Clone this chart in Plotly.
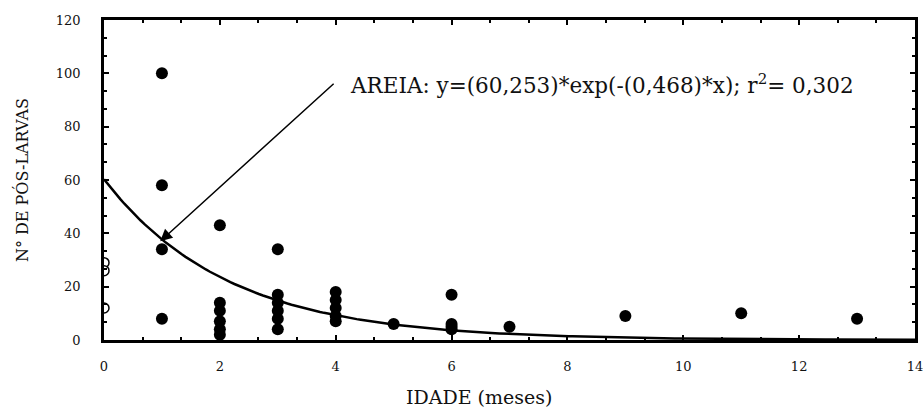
import numpy as np
import plotly.graph_objects as go

# AREIA: observed counts by age (months)
idade = [1, 1, 1, 1,
         2, 2, 2, 2, 2, 2,
         3, 3, 3, 3, 3, 3,
         4, 4, 4, 4, 4,
         5, 6, 6, 6, 6, 7, 9, 11, 13]
n_pl = [100, 58, 34, 8,
        43, 14, 11, 7, 4, 2,
        34, 17, 14, 11, 8, 4,
        18, 15, 12, 9, 7,
        6, 17, 6, 5, 4, 5, 9, 10, 8]

# open circles at age 0
idade0 = [0, 0, 0]
n_pl0 = [29, 26, 12]

a, b = 60.253, 0.468
xfit = np.linspace(0, 14, 200)
yfit = a * np.exp(-b * xfit)

font = "DejaVu Serif"
ink = "#111"

fig = go.Figure()
fig.add_trace(go.Scatter(x=xfit, y=yfit, mode="lines",
                         line=dict(color="black", width=2.5), showlegend=False))
fig.add_trace(go.Scatter(x=idade, y=n_pl, mode="markers",
                         marker=dict(color="black", size=12), showlegend=False))
fig.add_trace(go.Scatter(x=idade0, y=n_pl0, mode="markers",
                         marker=dict(color="white", size=10,
                                     line=dict(color="black", width=1.5)),
                         showlegend=False))

fig.add_annotation(x=0.97, y=37, ax=3.99, ay=96.6, xref="x", yref="y",
                   axref="x", ayref="y", text="", showarrow=True,
                   arrowhead=2, arrowsize=1.6, arrowwidth=1.5, arrowcolor="black")
fig.add_annotation(x=4.22, y=96, xref="x", yref="y", xanchor="left",
                   text="AREIA: y=(60,253)*exp(-(0,468)*x); r<sup>2</sup>= 0,302",
                   showarrow=False, font=dict(family=font, size=21.5, color=ink))

# axis titles placed as annotations
fig.add_annotation(x=-0.101, y=0.5, xref="paper", yref="paper", textangle=-90,
                   xanchor="center", yanchor="middle",
                   text="N° DE PÓS-LARVAS", showarrow=False,
                   font=dict(family=font, size=16, color=ink))
fig.add_annotation(x=0.462, y=-0.178, xref="paper", yref="paper",
                   xanchor="center", yanchor="middle",
                   text="IDADE (meses)", showarrow=False,
                   font=dict(family=font, size=19, color=ink))

axis = dict(showline=True, linecolor="black", linewidth=2.5, mirror="ticks",
            ticks="inside", ticklen=5, tickwidth=1.5, tickcolor="black",
            showgrid=False, zeroline=False, automargin=False,
            ticklabeloverflow="allow",
            tickfont=dict(family=font, size=13, color=ink))

fig.update_xaxes(range=[0, 14], dtick=2, tick0=0, ticklabelstandoff=13,
                 minor=dict(dtick=2 / 3, tick0=0, ticks="inside", ticklen=3,
                            tickcolor="black"),
                 **axis)
fig.update_yaxes(range=[0, 120], dtick=20, tick0=0, ticklabelstandoff=18,
                 minor=dict(dtick=20 / 3, tick0=0, ticks="inside", ticklen=3,
                            tickcolor="black"),
                 **axis)

fig.update_layout(width=923, height=410, plot_bgcolor="white", paper_bgcolor="white",
                  margin=dict(l=104, r=8, t=20, b=70))

# drop the default page margin so the figure fills the window
fig.write_html("out.html", config={"displayModeBar": False},
               post_script="document.body.style.margin='0';")
